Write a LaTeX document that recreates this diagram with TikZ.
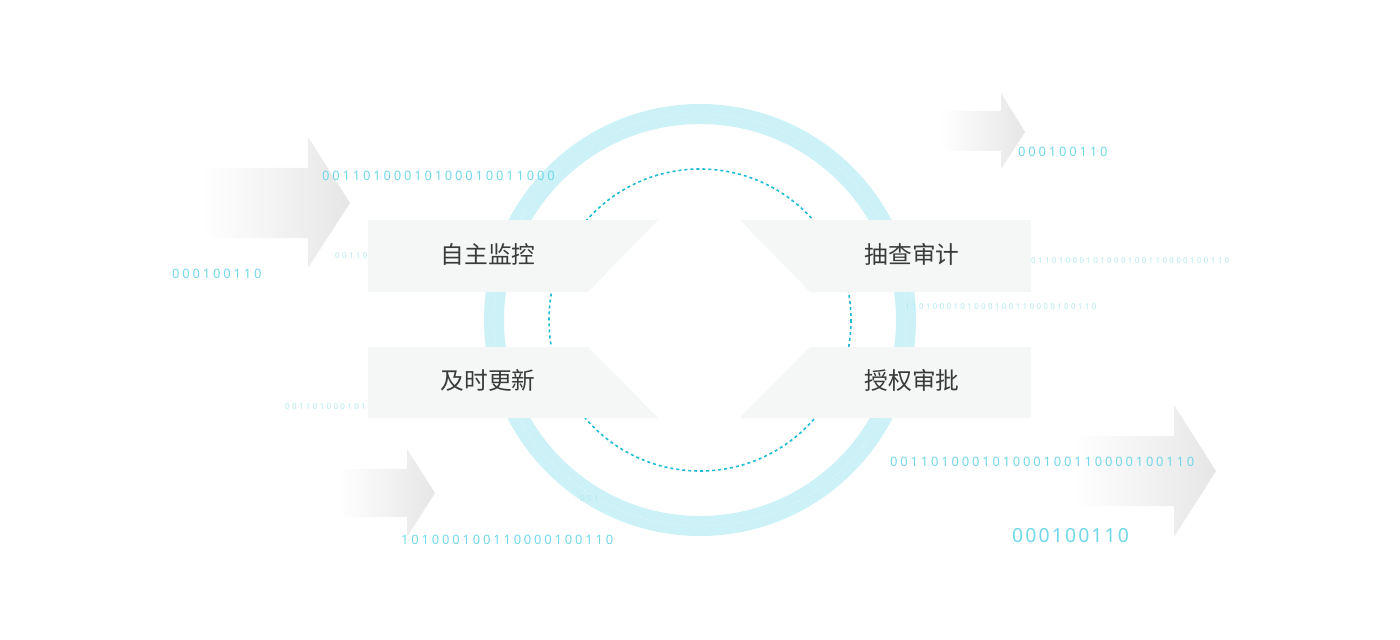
\documentclass[tikz,border=0pt]{standalone}
\usepackage{fontspec}
\newfontfamily\cjk{Noto Sans CJK SC}
\newfontfamily\bitfont{Noto Sans}
\definecolor{ringcyan}{HTML}{CCF1F6}
\definecolor{dashcyan}{HTML}{1CBCD4}
\definecolor{bitcyan}{HTML}{70D8E8}
\definecolor{bitfaint}{HTML}{B3E9F1}
\definecolor{bannergray}{HTML}{F4F7F6}
\definecolor{labelgray}{HTML}{3A3A3A}
\definecolor{arrowgray}{HTML}{E6E6E6}
\begin{document}
\begin{tikzpicture}[x=1bp, y=-1bp,
	bits/.style={text=bitcyan, inner sep=0pt, anchor=west,
		font=\bitfont\fontsize{13}{13}\selectfont\addfontfeature{LetterSpace=21.8}},
	smallbits/.style={text=bitfaint, inner sep=0pt, anchor=west,
		font=\bitfont\fontsize{8}{8}\selectfont\addfontfeature{LetterSpace=29.5}},
	bigbits/.style={text=bitcyan, inner sep=0pt, anchor=west,
		font=\bitfont\fontsize{19.5}{19.5}\selectfont\addfontfeature{LetterSpace=10.8}},
	banner/.style={fill=bannergray},
	label/.style={text=labelgray, font=\cjk\fontsize{23.8}{23.8}\selectfont},
	fatarrow/.style={left color=white, right color=arrowgray}]
	
	\useasboundingbox (0,0) rectangle (1400,640);
	
	% Grey arrows
	\shade[fatarrow] (203,168) -- (308,168) -- (308,137) -- (350,203) -- (308,268) -- (308,238) -- (203,238) -- cycle;
	\shade[fatarrow] (940,111) -- (1001,111) -- (1001,93) -- (1025,132) -- (1001,169) -- (1001,151) -- (940,151) -- cycle;
	\shade[fatarrow] (338,469) -- (407,469) -- (407,449) -- (435,493) -- (407,537) -- (407,517) -- (338,517) -- cycle;
	\shade[fatarrow] (1073,436) -- (1174,436) -- (1174,405) -- (1216,471) -- (1174,537) -- (1174,506) -- (1073,506) -- cycle;
	
	% Rings
	\coordinate (o) at (700,320);
	\draw[ringcyan, line width=20bp] (o) circle[radius=206];
	\draw[white, dotted, line width=0.5bp] (o) circle[radius=206];
	\draw[dashcyan, line width=1.6bp, dash pattern=on 3bp off 3bp] (o) circle[radius=151];
	
	% Binary strings
	\node[bits] (b1) at (322,176) {00110100010100010011000};
	\node[bits] (b2) at (172,274) {000100110};
	\node[smallbits] (b3) at (335,256) {00110};
	\node[smallbits] (b4) at (285,407) {0011010001010};
	\node[smallbits] (b5) at (580,499) {001};
	\node[bits] (b6) at (1018,152) {000100110};
	\node[smallbits] (b7) at (1031,261) {01101000101000100110000100110};
	\node[smallbits] (b8) at (905,307) {1101000101000100110000100110};
	\node[bits] (b9) at (890,462) {001101000101000100110000100110};
	\node[bigbits] (b10) at (1012,536) {000100110};
	\node[bits] (b11) at (401,540) {101000100110000100110};
	
	% Banners
	\fill[banner] (368,220) -- (658,220) -- (588,292) -- (368,292) -- cycle;
	\fill[banner] (368,347) -- (588,347) -- (658,418) -- (368,418) -- cycle;
	\fill[banner] (740,220) -- (1031,220) -- (1031,292) -- (810,292) -- cycle;
	\fill[banner] (810,347) -- (1031,347) -- (1031,418) -- (740,418) -- cycle;
	
	% Labels
	\node[label] (monitor) at (488,254) {自主监控};
	\node[label] (update) at (488,380) {及时更新};
	\node[label] (audit) at (912,254) {抽查审计};
	\node[label] (approve) at (912,380) {授权审批};
	
\end{tikzpicture}
\end{document}
